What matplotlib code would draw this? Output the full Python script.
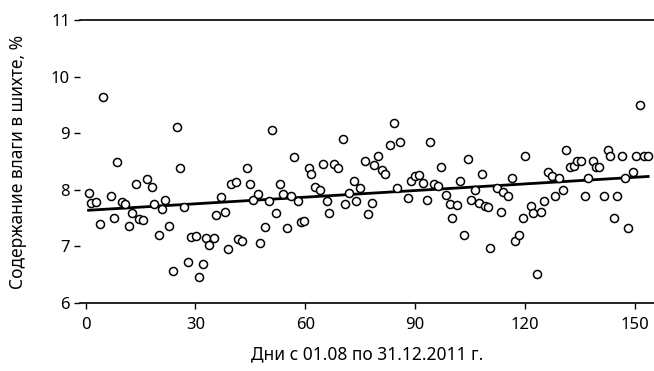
import numpy as np
import matplotlib
matplotlib.use("Agg")
import matplotlib.pyplot as plt

# days from 01.08 and moisture content
days = [0.8, 1.6, 2.7, 3.9, 4.7, 7.0, 7.7, 8.7, 9.9, 10.8,
        11.8, 12.7, 13.8, 14.6, 15.7, 16.8, 18.0, 18.6, 20.0, 21.0,
        21.7, 22.8, 23.9, 24.9, 25.8, 27.0, 27.9, 28.8, 30.1, 31.0,
        32.0, 33.0, 33.8, 35.0, 35.6, 36.9, 38.0, 38.8, 39.8, 41.0,
        41.7, 42.8, 44.0, 44.8, 45.8, 47.0, 47.7, 49.0, 50.0, 50.9,
        52.0, 53.0, 54.0, 55.0, 56.0, 56.8, 58.0, 58.9, 59.7, 61.0,
        61.6, 62.8, 64.0, 64.8, 66.0, 66.6, 67.9, 69.0, 70.4, 71.0,
        72.0, 73.4, 74.0, 75.0, 76.2, 77.2, 78.3, 78.9, 80.0, 81.0,
        81.9, 83.3, 84.2, 85.0, 86.0, 88.0, 89.0, 90.0, 91.0, 92.3,
        93.4, 94.0, 95.3, 96.4, 97.2, 98.4, 99.5, 100.2, 101.4, 102.2,
        103.3, 104.4, 105.2, 106.3, 107.4, 108.2, 109.0, 110.0, 110.6, 112.3,
        113.4, 114.0, 115.3, 116.4, 117.2, 118.4, 119.5, 120.0, 121.6, 122.2,
        123.3, 124.4, 125.2, 126.3, 127.4, 128.2, 129.3, 130.4, 131.2, 132.3,
        133.4, 134.2, 135.3, 136.4, 137.3, 138.6, 139.5, 140.3, 141.6, 142.7,
        143.3, 144.4, 145.2, 146.6, 147.4, 148.2, 149.6, 150.4, 151.5, 152.6,
        153.7]
moisture = [7.94, 7.77, 7.78, 7.40, 9.64, 7.89, 7.50, 8.49, 7.78, 7.75,
            7.36, 7.60, 8.10, 7.48, 7.46, 8.19, 8.05, 7.75, 7.20, 7.66,
            7.82, 7.36, 6.56, 9.11, 8.38, 7.70, 6.73, 7.17, 7.18, 6.46,
            6.69, 7.15, 7.02, 7.15, 7.56, 7.87, 7.61, 6.95, 8.10, 8.14,
            7.14, 7.10, 8.39, 8.10, 7.83, 7.93, 7.06, 7.34, 7.80, 9.05,
            7.59, 8.10, 7.92, 7.32, 7.89, 8.58, 7.80, 7.43, 7.45, 8.39,
            8.28, 8.05, 8.00, 8.46, 7.80, 7.59, 8.46, 8.39, 8.90, 7.75,
            7.94, 8.16, 7.80, 8.03, 8.51, 7.57, 7.77, 8.44, 8.60, 8.35,
            8.28, 8.79, 9.19, 8.03, 8.84, 7.86, 8.16, 8.24, 8.26, 8.12,
            7.82, 8.84, 8.10, 8.07, 8.40, 7.91, 7.75, 7.50, 7.73, 8.16,
            7.20, 8.54, 7.82, 8.00, 7.77, 8.28, 7.71, 7.70, 6.97, 8.03,
            7.61, 7.96, 7.89, 8.21, 7.10, 7.20, 7.50, 8.60, 7.71, 7.59,
            6.51, 7.61, 7.80, 8.31, 8.24, 7.89, 8.21, 8.00, 8.70, 8.40,
            8.42, 8.51, 8.51, 7.89, 8.21, 8.51, 8.40, 8.40, 7.89, 8.70,
            8.60, 7.50, 7.89, 8.60, 8.21, 7.33, 8.31, 8.60, 9.50, 8.60,
            8.60]
x_ticks = [0, 30, 60, 90, 120, 150]
y_ticks = [6, 7, 8, 9, 10, 11]

plt.rcParams['font.family'] = ['Noto Sans', 'DejaVu Sans']

fig = plt.figure(figsize=(6.54, 3.71), dpi=100)
ax = fig.add_axes([0.122, 0.183, 0.878, 0.763])

x = np.array(days)
y = np.array(moisture)
k, b = np.polyfit(x, y, 1)
xl = np.array([x.min(), x.max()])
ax.plot(xl, k * xl + b, color='black', lw=2, zorder=2)
ax.plot(x, y, 'o', ms=5.8, mfc='white', mec='black', mew=1.1, zorder=3)

ax.set_xlim(-1.6, 155.3)
ax.set_ylim(6, 11)
ax.set_xticks(x_ticks)
ax.set_yticks(y_ticks)
ax.spines['left'].set_visible(False)
ax.spines['right'].set_visible(False)
for s in ('top', 'bottom'):
    ax.spines[s].set_linewidth(1.2)
ax.tick_params(axis='x', length=4, width=1, labelsize=12, pad=6)
ax.tick_params(axis='y', length=4, width=1, labelsize=12, pad=3)

ax.set_xlabel('Дни с 01.08 по 31.12.2011 г.', fontsize=12.5, labelpad=9)
ax.set_ylabel('Содержание влаги в шихте, %', fontsize=12.5, labelpad=17)

fig.savefig('out.png', dpi=100)
